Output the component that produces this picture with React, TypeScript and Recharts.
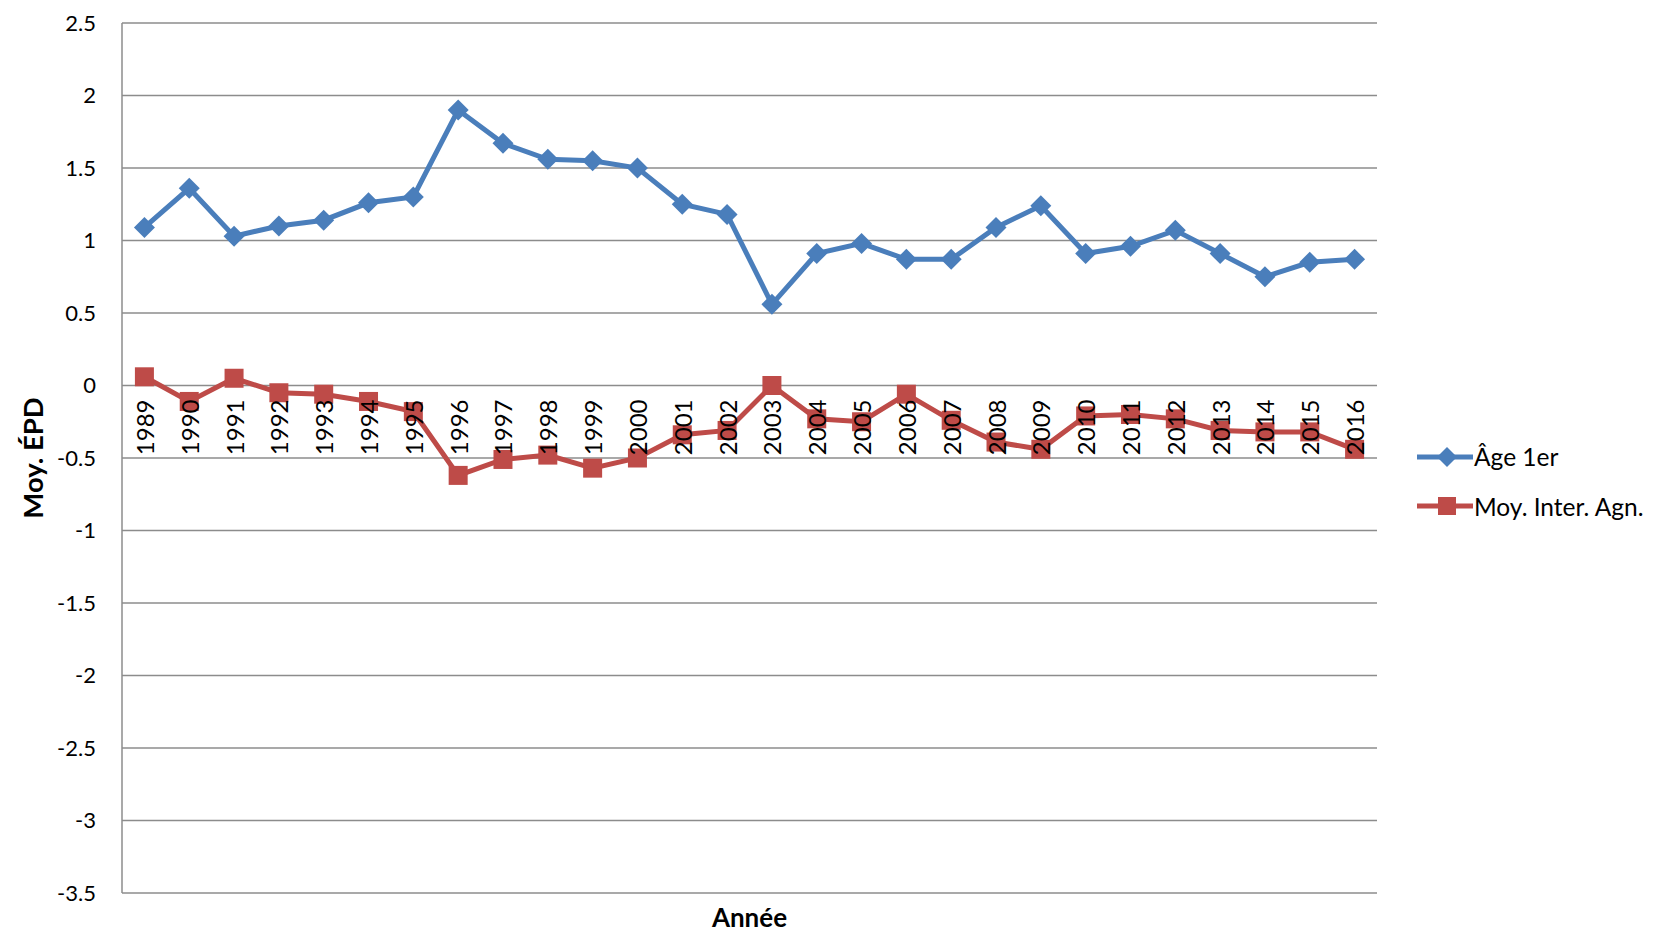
import React from 'react';
import { LineChart, Line, XAxis, YAxis, CartesianGrid } from 'recharts';

const years = ['1989','1990','1991','1992','1993','1994','1995','1996','1997','1998','1999','2000','2001','2002','2003','2004','2005','2006','2007','2008','2009','2010','2011','2012','2013','2014','2015','2016'];
const age1er = [1.09,1.36,1.03,1.10,1.14,1.26,1.30,1.90,1.67,1.56,1.55,1.50,1.25,1.18,0.56,0.91,0.98,0.87,0.87,1.09,1.24,0.91,0.96,1.07,0.91,0.75,0.85,0.87];
const moyInterAgn = [0.06,-0.11,0.05,-0.05,-0.06,-0.11,-0.18,-0.62,-0.51,-0.48,-0.57,-0.50,-0.34,-0.31,0.00,-0.23,-0.25,-0.06,-0.24,-0.39,-0.44,-0.21,-0.20,-0.23,-0.31,-0.32,-0.32,-0.44];
const yTicks = [-3.5,-3,-2.5,-2,-1.5,-1,-0.5,0,0.5,1,1.5,2,2.5];
const seriesNames = ['Âge 1er', 'Moy. Inter. Agn.'];

const data = years.map((y, i) => ({ year: y, a: age1er[i], b: moyInterAgn[i] }));

const W = 1655;
const H = 932;
const M_TOP = 23;
const M_LEFT = 22;
const Y_W = 100;
const M_RIGHT = 278;
const X_H = 39;
const PLOT_H = H - M_TOP - X_H;
const Y_MIN = -3.5;
const Y_MAX = 2.5;
const ZERO_Y = M_TOP + (PLOT_H * (Y_MAX - 0)) / (Y_MAX - Y_MIN);

const FONT = 'Lato, "Open Sans", sans-serif';
const BLUE = '#4A7EBB';
const RED = '#BE4B48';
const GRID = '#8C8C8C';

const Diamond = (props: any) => {
  const { cx, cy, fill } = props;
  if (cx == null || cy == null) return null;
  const r = 10.5;
  return <path d={`M${cx},${cy - r}L${cx + r},${cy}L${cx},${cy + r}L${cx - r},${cy}Z`} fill={fill} />;
};
const Square = (props: any) => {
  const { cx, cy, fill } = props;
  if (cx == null || cy == null) return null;
  const s = 9.5;
  return <rect x={cx - s} y={cy - s} width={2 * s} height={2 * s} fill={fill} />;
};

const XTick = (props: any) => {
  const { x, payload } = props;
  const y0 = ZERO_Y + 14;
  return (
    <text
      x={x}
      y={y0}
      transform={`rotate(-90, ${x}, ${y0})`}
      textAnchor="end"
      dominantBaseline="central"
      fontFamily={FONT}
      fontSize={24}
      fill="#000"
    >
      {payload.value}
    </text>
  );
};

const LegendBox = () => {
  const items = [
    { name: seriesNames[0], color: BLUE, shape: 'diamond' },
    { name: seriesNames[1], color: RED, shape: 'square' },
  ];
  return (
    <div style={{ position: 'absolute', left: 1417, top: 432, width: 238, fontFamily: FONT, fontSize: 24.5, color: '#000' }}>
      {items.map((it) => (
        <div key={it.name} style={{ display: 'flex', alignItems: 'center', height: 49.6 }}>
          <svg width={56} height={24} style={{ display: 'block', flex: 'none' }}>
            <line x1={0} y1={12} x2={56} y2={12} stroke={it.color} strokeWidth={5} />
            {it.shape === 'diamond' ? (
              <path d="M30,2L40,12L30,22L20,12Z" fill={it.color} />
            ) : (
              <rect x={21} y={3} width={18} height={18} fill={it.color} />
            )}
          </svg>
          <span style={{ whiteSpace: 'nowrap', marginLeft: 1 }}>{it.name}</span>
        </div>
      ))}
    </div>
  );
};

export default function App() {
  return (
    <div style={{ position: 'absolute', left: 0, top: 0, width: W, height: H, overflow: 'hidden', background: '#fff' }}>
      <LineChart
        width={W}
        height={H}
        data={data}
        margin={{ top: M_TOP, right: M_RIGHT, bottom: 0, left: M_LEFT }}
      >
        <CartesianGrid vertical={false} stroke={GRID} strokeWidth={1.5} />
        <XAxis
          dataKey="year"
          scale="band"
          height={X_H}
          axisLine={false}
          tickLine={false}
          tick={<XTick />}
          interval={0}
          label={(p: any) => {
            const vb = p.viewBox;
            return (
              <text
                x={vb.x + vb.width / 2}
                y={vb.y + 34}
                textAnchor="middle"
                fontFamily={FONT}
                fontWeight="bold"
                fontSize={26}
                fill="#000"
              >
                Année
              </text>
            );
          }}
        />
        <YAxis
          width={Y_W}
          domain={[Y_MIN, Y_MAX]}
          ticks={yTicks}
          interval={0}
          axisLine={{ stroke: GRID, strokeWidth: 1.5 }}
          tickLine={false}
          tickSize={0}
          tickMargin={26}
          tick={{ fontFamily: FONT, fontSize: 22, fill: '#000' }}
          label={() => {
            const cy = M_TOP + PLOT_H / 2;
            const bx = 43;
            return (
              <text
                x={bx}
                y={cy}
                transform={`rotate(-90, ${bx}, ${cy})`}
                textAnchor="middle"
                fontFamily={FONT}
                fontWeight="bold"
                fontSize={27.5}
                fill="#000"
              >
                Moy. ÉPD
              </text>
            );
          }}
        />
        <Line
          type="linear"
          dataKey="a"
          name={seriesNames[0]}
          stroke={BLUE}
          strokeWidth={5}
          dot={<Diamond fill={BLUE} />}
          activeDot={false}
          isAnimationActive={false}
        />
        <Line
          type="linear"
          dataKey="b"
          name={seriesNames[1]}
          stroke={RED}
          strokeWidth={5}
          dot={<Square fill={RED} />}
          activeDot={false}
          isAnimationActive={false}
        />
      </LineChart>
      <LegendBox />
    </div>
  );
}
